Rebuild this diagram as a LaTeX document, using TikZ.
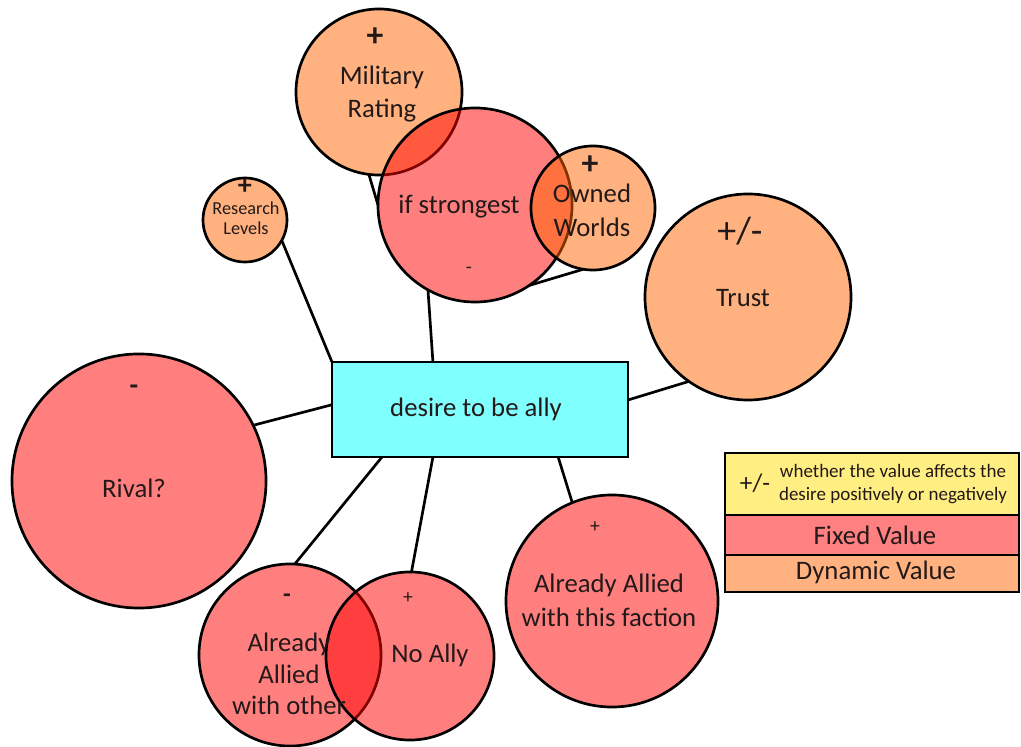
\documentclass[tikz,border=0pt]{standalone}
\usepackage{fontspec}
\setmainfont{Carlito}
\usetikzlibrary{calc}
\definecolor{fixc}{RGB}{255,0,0}
\definecolor{dync}{RGB}{255,102,0}
\definecolor{fixsolid}{RGB}{255,128,128}
\definecolor{dynsolid}{RGB}{255,178,128}
\definecolor{signc}{RGB}{255,238,130}
\definecolor{boxc}{RGB}{128,255,255}
\definecolor{txt}{RGB}{35,25,25}
\begin{document}
\begin{tikzpicture}[x=0.025cm,y=-0.025cm,
  bubble/.style={circle, draw=black, line width=1.9pt, inner sep=0pt, outer sep=0pt, fill opacity=0.5, draw opacity=1, text opacity=1},
  fixed/.style={bubble, fill=fixc},
  dynamic/.style={bubble, fill=dync},
  lbl/.style={text=txt, align=center, inner sep=0pt, font=\fontsize{19}{24}\selectfont},
  sign/.style={text=txt, inner sep=0pt, font=\fontsize{24}{24}\selectfont\bfseries},
  smallsign/.style={text=txt, inner sep=0pt, font=\fontsize{14}{14}\selectfont},
  link/.style={draw=black, line width=1.9pt},
  legrow/.style={draw=black, line width=2pt, minimum width=7.35cm, inner sep=0pt, outer sep=0pt}
]
\useasboundingbox (0,0) rectangle (1021,747);

% bubbles
\node[dynamic, minimum size=2.1cm] (research) at (245,220) {};
\node[dynamic, minimum size=4.15cm] (mil) at (379,92) {};
\node[fixed, minimum size=4.85cm] (strong) at (475,205) {};
\node[dynamic, minimum size=3.1cm] (owned) at (593,208) {};
\node[dynamic, minimum size=5.15cm] (trust) at (748,297) {};
\node[fixed, minimum size=6.35cm] (rival) at (139,481) {};
\node[fixed, minimum size=4.55cm] (other) at (290,655) {};
\node[fixed, minimum size=4.2cm] (noally) at (410,656) {};
\node[fixed, minimum size=5.3cm] (faction) at (612,601) {};

% central box
\node[draw=black, line width=1.9pt, fill=boxc, minimum width=7.4cm, minimum height=2.375cm, inner sep=0pt, outer sep=0pt] (rect) at (480,409.5) {};
\node[lbl] (rectlbl) at (476,409) {desire to be ally};

% connector end points on the box
\coordinate (rn) at ($(rect.north west)!0.341!(rect.north east)$);
\coordinate (re) at ($(rect.north east)!0.4!(rect.south east)$);
\coordinate (rw) at ($(rect.north west)!0.45!(rect.south west)$);
\coordinate (rs1) at ($(rect.south west)!0.169!(rect.south east)$);
\coordinate (rs2) at ($(rect.south west)!0.341!(rect.south east)$);
\coordinate (rs3) at ($(rect.south west)!0.764!(rect.south east)$);

% connectors
\draw[link] (research.-29) -- (rect.north west);
\draw[link] (strong.-119) -- (rn);
\draw[link] (mil.-97) -- (strong.180);
\draw[link] (owned.-99) -- (strong.-56);
\draw[link] (trust.-125) -- (re);
\draw[link] (rival.26) -- (rw);
\draw[link] (other.87) -- (rs1);
\draw[link] (noally.89) -- (rs2);
\draw[link] (faction.112) -- (rs3);

% labels
\node[sign, font=\fontsize{20}{20}\selectfont\bfseries] (researchs) at (245,187) {+};
\node[lbl, font=\fontsize{13}{14.5}\selectfont] (researchl) at (246,218) {Research\\Levels};
\node[sign] (mils) at (375,37) {+};
\node[lbl] (mill) at (382,94) {Military\\Rating};
\node[lbl] (strongl) at (459,207) {if strongest};
\node[smallsign] (strongs) at (469,270) {-};
\node[sign] (owneds) at (590,165) {+};
\node[lbl] (ownedl) at (592,210) {Owned\\Worlds};
\node[sign, font=\fontsize{27}{27}\selectfont] (trusts) at (740,231) {+/-};
\node[lbl] (trustl) at (743,298) {Trust};
\node[sign, font=\fontsize{20}{20}\selectfont\bfseries] (rivals) at (134,390) {-};
\node[lbl] (rivall) at (134,488) {Rival?};
\node[sign, font=\fontsize{18}{18}\selectfont\bfseries] (others) at (287,598) {-};
\node[lbl, font=\fontsize{19}{22.5}\selectfont] (otherl) at (289,674) {Already\\Allied\\with other};
\node[smallsign] (noallys) at (408,598) {+};
\node[lbl] (noallyl) at (430,655) {No Ally};
\node[smallsign] (factions) at (595,527) {+};
\node[lbl] (factionl) at (609,600) {Already Allied\\with this faction};

% legend
\node[legrow, fill=signc, minimum height=1.55cm] (legsign) at (872,484) {};
\node[legrow, fill=fixsolid, minimum height=1.0cm] (legfix) at (872,535) {};
\node[legrow, fill=dynsolid, minimum height=0.925cm] (legdyn) at (872,573.5) {};
\node[lbl, font=\fontsize{18}{18}\selectfont] (legsigns) at (755,483) {+/-};
\node[lbl, font=\fontsize{13.5}{17}\selectfont] (legsignt) at (893,484) {whether the value affects the\\desire positively or negatively};
\node[lbl] (legfixt) at (875,535) {Fixed Value};
\node[lbl] (legdynt) at (876,572) {Dynamic Value};
\end{tikzpicture}
\end{document}
